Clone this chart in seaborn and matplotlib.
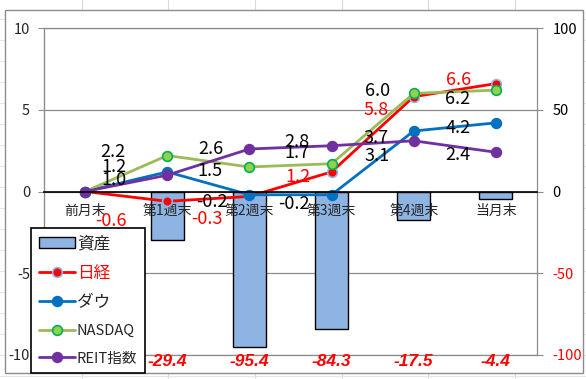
import numpy as np
import pandas as pd
import matplotlib
matplotlib.use("Agg")
import matplotlib.pyplot as plt
import seaborn as sns
from matplotlib.patches import Rectangle
from matplotlib.lines import Line2D

# ------------------------------------------------------------------
# Data
# ------------------------------------------------------------------
categories = ['前月末', '第1週末', '第2週末', '第3週末', '第4週末', '当月末']
asset_cats = ['第1週末', '第2週末', '第3週末', '第4週末', '当月末']
asset_vals = [-29.4, -95.4, -84.3, -17.5, -4.4]

nikkei = [0.0, -0.6, -0.3, 1.2, 5.8, 6.6]
dow = [0.0, 1.2, -0.2, -0.2, 3.7, 4.2]
nasdaq = [0.0, 2.2, 1.5, 1.7, 6.0, 6.2]
reit = [0.0, 1.0, 2.6, 2.8, 3.1, 2.4]

# label offsets (pixels, from the point) for points 1..5
off_nikkei = [(-56, -20), (-43, -23), (-34, -5), (-38, -13), (-37, 4)]
off_dow = [(-53, 5), (-38, -7), (-38, -9), (-38, -7), (-38, -5)]
off_nasdaq = [(-54, 4), (-39, -4), (-35, 11), (-36, 2), (-38, -9)]
off_reit = [(-53, -5), (-39, 0), (-35, 4), (-37, -15), (-38, -3)]

sns.set_style('white')
plt.rcParams['font.family'] = ['Noto Sans CJK JP', 'DejaVu Sans']
plt.rcParams['axes.unicode_minus'] = False

W, H = 586, 379
fig = plt.figure(figsize=(W / 100, H / 100), dpi=100)
fig.patch.set_facecolor('white')

# excel sheet cell lines behind the chart
for xc in [82, 168, 255, 342, 428, 515]:
    fig.add_artist(Line2D([xc / W, xc / W], [0, 1], color='#DADADA', lw=0.8, zorder=0))
for yr in range(19, H, 21):
    fig.add_artist(Line2D([0, 1], [1 - yr / H, 1 - yr / H], color='#E6E6E6', lw=0.8, zorder=0))
fig.add_artist(Rectangle((5 / W, 1 - 373 / H), 578 / W, 363 / H, transform=fig.transFigure,
                         facecolor='white', edgecolor='#8C8C8C', lw=1.0, zorder=0.5))

ax = fig.add_axes([44 / W, 1 - 355 / H, 493 / W, 327 / H])
ax2 = ax.twinx()
ax2.set_zorder(1)
ax.set_zorder(2)
ax.patch.set_visible(False)
ax2.patch.set_visible(False)

# ------------------------------------------------------------------
# Bars (right axis)
# ------------------------------------------------------------------
sns.barplot(x=asset_cats, y=asset_vals, order=categories, ax=ax2, color='#8DB4E2',
            saturation=1, width=0.4, edgecolor='black', linewidth=1.0, label='資産')
ax2.set_ylim(-100, 100)
ax2.set_yticks([-100, -50, 0, 50, 100])
ax2.grid(axis='y', color='#8C8C8C', lw=0.9)
ax2.set_axisbelow(True)
ax2.set_ylabel('')
ax2.set_xlabel('')
ax2.tick_params(axis='y', direction='out', length=4, width=0.8, color='#8C8C8C',
                pad=7, labelsize=10.5)
for lab in ax2.get_yticklabels():
    lab.set_horizontalalignment('left')
for lab, v in zip(ax2.get_yticklabels(), [-100, -50, 0, 50, 100]):
    lab.set_color('red' if v < 0 else 'black')
for s in ax2.spines.values():
    s.set_color('#8C8C8C')
    s.set_linewidth(0.9)

for c, v in zip(asset_cats, asset_vals):
    ax2.annotate(f'{v:.1f}', xy=(categories.index(c), -100), xytext=(0, -7),
                 textcoords='offset pixels', ha='center', va='center',
                 color='red', fontsize=12.5, fontweight='bold', fontstyle='italic',
                 family='Liberation Sans', annotation_clip=False)

# ------------------------------------------------------------------
# Lines (left axis)
# ------------------------------------------------------------------
series = [
    ('日経', nikkei, '#FF0000', '#FF0000', '#8DB4E2', off_nikkei, 'red'),
    ('ダウ', dow, '#0070C0', '#0070C0', '#0070C0', off_dow, 'black'),
    ('NASDAQ', nasdaq, '#9BBB59', '#92D050', '#00B050', off_nasdaq, 'black'),
    ('REIT指数', reit, '#7030A0', '#7030A0', '#7030A0', off_reit, 'black'),
]
for name, vals, lc, fc, ec, offs, tc in series:
    sns.lineplot(x=categories, y=vals, ax=ax, sort=False, color=lc, lw=2,
                 marker='o', markersize=7, markerfacecolor=fc,
                 markeredgecolor=ec, markeredgewidth=1.2, label=name)
    for i, (dx, dy) in enumerate(offs, start=1):
        ax.annotate(f'{vals[i]:.1f}', xy=(i, vals[i]), xytext=(dx, dy),
                    textcoords='offset pixels', ha='center', va='center',
                    color=tc, fontsize=13)

if ax.get_legend() is not None:
    ax.get_legend().remove()
if ax2.get_legend() is not None:
    ax2.get_legend().remove()

ax.set_ylim(-10, 10)
ax.set_yticks([-10, -5, 0, 5, 10])
ax.set_xlim(-0.5, len(categories) - 0.5)
ax.set_xticks(range(len(categories)))
ax.set_xticklabels(categories, fontsize=12.5)
ax.set_xticks(np.arange(-0.5, len(categories), 1.0), minor=True)
ax.tick_params(axis='x', which='major', length=0, pad=9)
ax.tick_params(axis='x', which='minor', direction='out', length=4, width=0.8, color='black')
ax.tick_params(axis='y', direction='out', length=4, width=0.8, color='#8C8C8C',
               pad=6, labelsize=10.5)
ax.set_xlabel('')
ax.set_ylabel('')
ax.spines['bottom'].set_position(('data', 0))
ax.spines['bottom'].set_color('black')
ax.spines['bottom'].set_linewidth(1.2)
ax.spines['left'].set_color('#8C8C8C')
ax.spines['top'].set_visible(False)
ax.spines['right'].set_visible(False)

# ------------------------------------------------------------------
# Legend
# ------------------------------------------------------------------
h2, l2 = ax2.get_legend_handles_labels()
h1, l1 = ax.get_legend_handles_labels()
leg = fig.legend(h2 + h1, l2 + l1, loc='lower left',
                 bbox_to_anchor=(31 / W, 1 - 373 / H), bbox_transform=fig.transFigure,
                 frameon=True, fancybox=False, edgecolor='black', framealpha=1,
                 fontsize=12, labelspacing=0.75, handlelength=2.2, handletextpad=0.1,
                 borderpad=0.45, borderaxespad=0)
leg.get_frame().set_linewidth(1.2)
leg.set_zorder(10)
for t in leg.get_texts():
    if t.get_text() == '日経':
        t.set_color('red')
    if t.get_text() in ('NASDAQ', 'REIT指数'):
        t.set_fontsize(10.5)

fig.savefig('out.png', dpi=100)
